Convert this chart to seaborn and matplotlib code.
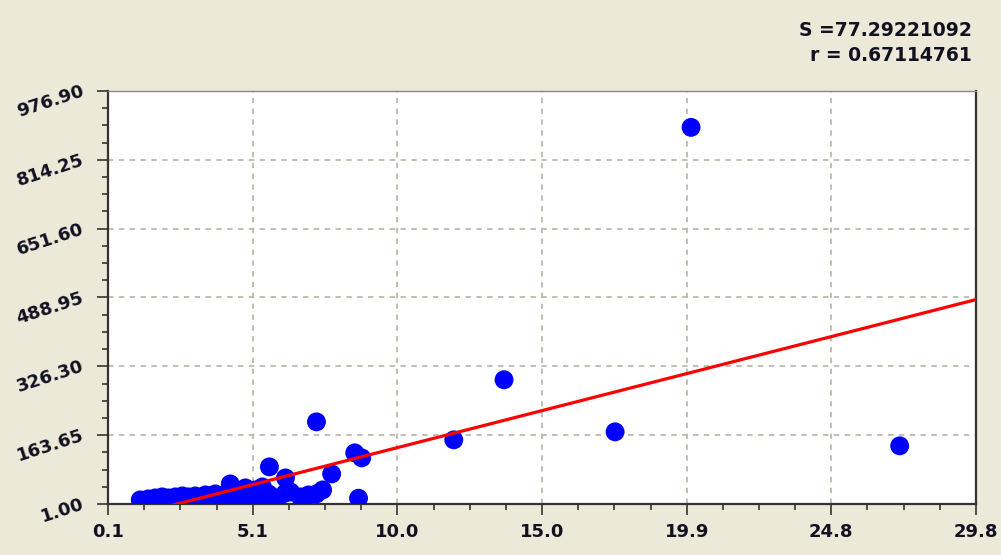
import numpy as np
import pandas as pd
import seaborn as sns
import matplotlib.pyplot as plt

# points
x_vals = [1.20, 1.47, 1.71, 1.95, 2.16, 2.40, 2.64, 2.84, 3.08, 3.26,
          3.43, 3.60, 3.77, 3.94, 4.11, 4.28, 4.46, 4.63, 4.80, 4.97,
          5.14, 5.38, 5.59, 5.72, 6.17, 6.17, 6.34, 6.68, 6.96, 7.23,
          7.44, 5.62, 7.75, 8.54, 8.78, 8.67, 7.23, 11.93, 13.65, 17.45,
          20.05, 27.19, 1.60, 2.00, 2.50, 3.00, 3.50, 4.00, 4.90, 5.30,
          2.30, 2.90, 3.70, 4.40, 5.90]
y_vals = [10.5, 12.8, 15.2, 17.6, 15.2, 17.6, 19.9, 17.6, 19.9, 15.2,
          22.3, 19.9, 24.7, 19.9, 22.3, 48.3, 27.0, 29.4, 38.9, 22.3,
          34.1, 41.2, 24.7, 17.6, 62.5, 27.0, 29.4, 17.6, 22.3, 24.7,
          34.1, 88.6, 72.0, 121.7, 109.9, 14.5, 195.0, 152.5, 294.5, 171.4,
          891.0, 138.3, 5.7, 6.0, 5.5, 7.0, 6.5, 8.0, 6.0, 10.0,
          9.0, 11.0, 12.0, 14.0, 13.0]

# fitted line and stats shown on the chart
slope = 17.67
intercept = -42.6
s_text = "S =77.29221092"
r_text = "r = 0.67114761"

x_ticks = [0.1, 5.05, 10.0, 14.95, 19.9, 24.85, 29.8]
x_labels = ["0.1", "5.1", "10.0", "15.0", "19.9", "24.8", "29.8"]
y_ticks = [1.00, 163.65, 326.30, 488.95, 651.60, 814.25, 976.90]
y_labels = ["1.00", "163.65", "326.30", "488.95", "651.60", "814.25", "976.90"]

df = pd.DataFrame({"x": x_vals, "y": y_vals})

bg = "#ece9d8"
fig = plt.figure(figsize=(10.01, 5.55), dpi=100, facecolor=bg)
ax = fig.add_axes([0.108, 0.092, 0.867, 0.744])
ax.set_facecolor("white")

sns.scatterplot(data=df, x="x", y="y", s=185, color="#0000ff",
                edgecolor="none", linewidth=0, ax=ax, zorder=3)

fit_x = np.array([x_ticks[0], x_ticks[-1]])
sns.lineplot(x=fit_x, y=slope * fit_x + intercept, color="#ff0000",
             linewidth=2.3, ax=ax, zorder=4)

ax.set_xlim(x_ticks[0], x_ticks[-1])
ax.set_ylim(y_ticks[0], y_ticks[-1])
ax.set_xticks(x_ticks)
ax.set_xticklabels(x_labels, fontsize=13, fontweight="bold", color="#111122")
ax.set_yticks(y_ticks)
ax.set_yticklabels(y_labels, fontsize=13, fontweight="bold", color="#111122",
                   rotation=18, ha="right", va="center", rotation_mode="anchor")
ax.set_xticks(np.linspace(x_ticks[0], x_ticks[-1], 25), minor=True)
ax.set_yticks(np.linspace(y_ticks[0], y_ticks[-1], 25), minor=True)
ax.tick_params(which="major", length=8, width=1.2, color="#333333", pad=6)
ax.tick_params(axis="y", which="major", pad=10)
ax.tick_params(which="minor", length=4.5, width=1.2, color="#333333")
ax.set_xlabel("")
ax.set_ylabel("")

ax.grid(True, which="major", linestyle=(0, (3, 3)), color="#bdb9ad", linewidth=1.3)
ax.set_axisbelow(True)

for side in ["left", "bottom", "right"]:
    ax.spines[side].set_color("#333333")
    ax.spines[side].set_linewidth(1.6)
ax.spines["top"].set_color("#888888")
ax.spines["top"].set_linewidth(1.0)

fig.text(0.971, 0.945, s_text, ha="right", va="center", fontsize=13.5,
         fontweight="bold", color="#111122")
fig.text(0.971, 0.900, r_text, ha="right", va="center", fontsize=13.5,
         fontweight="bold", color="#111122")

fig.savefig("out.png", dpi=100, facecolor=bg)
